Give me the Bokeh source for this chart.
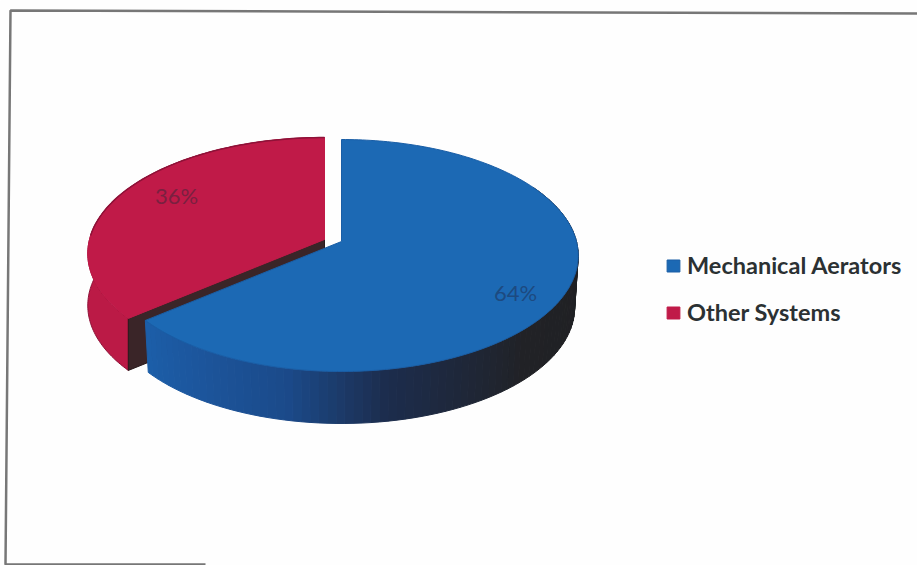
import math
from bokeh.core.properties import value
from bokeh.embed import file_html
from bokeh.models import ColumnDataSource, Legend, LegendItem, Range1d
from bokeh.plotting import figure
from bokeh.resources import INLINE

# Chart content
categories = ["Mechanical Aerators", "Other Systems"]
shares = [64, 36]
share_labels = ["64%", "36%"]

# Colours
TOP_COLORS = ["#1c69b4", "#c01a48"]
RED_SIDE = "#bb1a46"
RED_EDGE = "#8e1238"
WALL = "#3a2528"
INK = "#2b3133"
LABEL_COLORS = ["#1d4a80", "#7a2040"]
FRAME = "#777777"
# Shading of the blue rim, from its rear right end to the cut at the left
BLUE_RIM_STOPS = [(60, "#1d1d20"), (135, "#212226"), (170, "#1c2c4c"),
                  (192, "#1b4a8a"), (215, "#1c569e"), (231, "#1c5fa9")]

W, H = 917, 565

# Projection of the tilted disc onto the page
DISC_R = 235.0
DISC_S = 114.3
DISC_K = 0.1207
DEPTH = 52.0
BLUE_APEX = (341.0, 241.0)
RED_APEX = (324.0, 239.0)


def project(theta_deg, apex, dy=0.0, scale=1.0):
    t = math.radians(theta_deg)
    w = 1 + DISC_K * math.cos(t)
    return (apex[0] + scale * DISC_R * math.sin(t) / w,
            apex[1] + dy - DISC_S * math.cos(t) / w)


def sweep(a, b, n=120):
    return [a + (b - a) * i / n for i in range(n + 1)]


def hex_mix(stops, t):
    for (t0, c0), (t1, c1) in zip(stops, stops[1:]):
        if t <= t1:
            f = max(0.0, (t - t0) / (t1 - t0))
            a = [int(c0[i:i + 2], 16) for i in (1, 3, 5)]
            b = [int(c1[i:i + 2], 16) for i in (1, 3, 5)]
            return "#%02x%02x%02x" % tuple(round(x + (y - x) * f) for x, y in zip(a, b))
    return stops[-1][1]


split = 360.0 * shares[0] / sum(shares)

p = figure(width=W, height=H, output_backend="svg", toolbar_location=None,
           x_range=Range1d(0, W), y_range=Range1d(H, 0), min_border=0,
           background_fill_color="#fefefe", border_fill_color="#fefefe",
           outline_line_color=None)
p.axis.visible = False
p.grid.visible = False

# Sheet border: slightly skewed, as on a scanned page
p.line([917, 10, 5, 205], [13, 10, 564, 564], line_color=FRAME, line_width=2.5)

# Other Systems: rim, cut wall, then top face
red_angles = sweep(split, 360)
rim_top = [project(a, RED_APEX) for a in red_angles]
rim_low = [project(a, RED_APEX, DEPTH) for a in red_angles]
quad = rim_top + rim_low[::-1]
p.patch([q[0] for q in quad], [q[1] for q in quad], fill_color=RED_SIDE,
        line_color=RED_EDGE, line_width=1)
tip_top = project(split, RED_APEX)
tip_low = project(split, RED_APEX, DEPTH)
wall_x = [RED_APEX[0], tip_top[0], tip_low[0], RED_APEX[0]]
wall_y = [RED_APEX[1], tip_top[1], tip_low[1], RED_APEX[1] + DEPTH]
p.patch(wall_x, wall_y, fill_color=WALL, line_color="#2a1a1c", line_width=1)
face = [RED_APEX] + rim_top
red_top = p.patch([q[0] for q in face], [q[1] for q in face], fill_color=TOP_COLORS[1],
                  line_color=TOP_COLORS[1], line_width=1)
back_arc = [project(a, RED_APEX) for a in sweep(272, 360, 60)]
p.line([q[0] for q in back_arc], [q[1] for q in back_arc], line_color=RED_EDGE, line_width=1.5)

# Mechanical Aerators: shaded rim drawn as narrow strips, then top face
rim_angles = sweep(60, split, 90)
xs, ys, colors = [], [], []
for a, b in zip(rim_angles, rim_angles[1:]):
    corners = [project(a, BLUE_APEX), project(b, BLUE_APEX),
               project(b, BLUE_APEX, DEPTH, 0.985), project(a, BLUE_APEX, DEPTH, 0.985)]
    xs.append([c[0] for c in corners])
    ys.append([c[1] for c in corners])
    colors.append(hex_mix(BLUE_RIM_STOPS, (a + b) / 2))
p.patches("xs", "ys", fill_color="colors", line_color="colors", line_width=1,
          source=ColumnDataSource(dict(xs=xs, ys=ys, colors=colors)))
face = [BLUE_APEX] + [project(a, BLUE_APEX) for a in sweep(0, split, 200)]
blue_top = p.patch([q[0] for q in face], [q[1] for q in face], fill_color=TOP_COLORS[0],
                   line_color="#1a5ea6", line_width=1)

# Percentage labels on the slices
p.text(x=[515, 176], y=[292, 195], text=share_labels, text_color=LABEL_COLORS,
       text_font=value("Lato"), text_font_size="22px", text_align="center",
       text_baseline="middle")

legend = Legend(
    items=[LegendItem(label=categories[0], renderers=[blue_top]),
           LegendItem(label=categories[1], renderers=[red_top])],
    location=(665, 239), orientation="vertical",
    glyph_width=16, glyph_height=15, spacing=19, label_standoff=6,
    label_text_font="Lato", label_text_font_size="23.5px", label_text_color=INK,
    label_text_font_style="bold", label_height=20, padding=10, margin=0,
    background_fill_alpha=0, border_line_color=None)
p.add_layout(legend)

open("out.html", "w").write(file_html(p, INLINE))
